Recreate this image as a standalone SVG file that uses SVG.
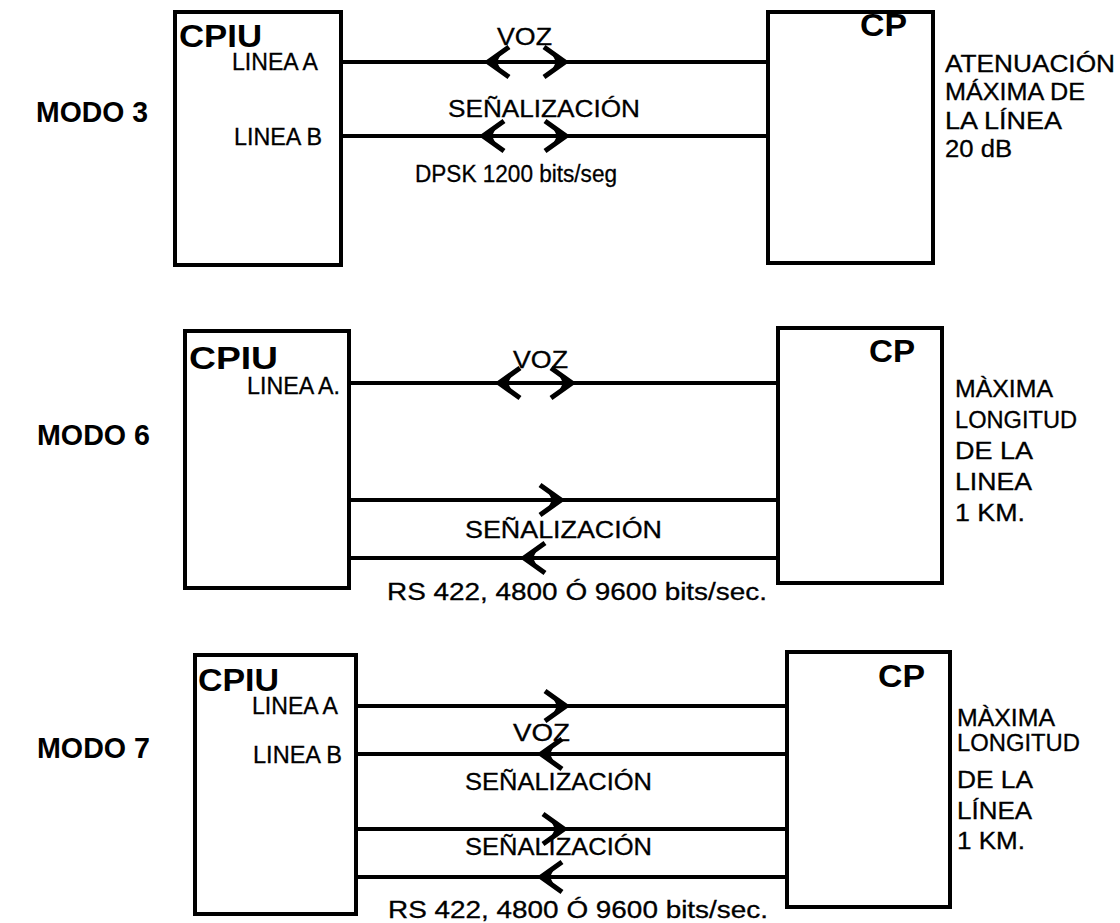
<svg xmlns="http://www.w3.org/2000/svg" xmlns:xlink="http://www.w3.org/1999/xlink" width="1120" height="923" viewBox="0 0 1120 923">
<style>
.box{fill:none;stroke:#000;stroke-width:4}
.ln{stroke:#000;stroke-width:4;fill:none}
.t{font-family:"Liberation Sans",Arial,sans-serif;font-size:23px;fill:#000;stroke:#000;stroke-width:0.3}
.b{font-family:"Liberation Sans",Arial,sans-serif;font-weight:bold;font-size:32px;fill:#000}
.m{font-family:"Liberation Sans",Arial,sans-serif;font-weight:bold;font-size:29px;fill:#000}
.ahc{fill:none;stroke:#000;stroke-width:5;stroke-linejoin:miter;stroke-miterlimit:10}
</style>
<defs>
<g id="ah">
<path class="ahc" d="M-22,-15 L-1,0 L-22,15"/>
<path d="M2,0 L-14,-8 L-10,0 L-14,8 Z" fill="#000"/>
</g>
</defs>
<rect x="0" y="0" width="1120" height="923" fill="#fff"/>

<!-- MODE 3 -->
<g id="modo3-label"><text class="m" x="36" y="122" textLength="112" lengthAdjust="spacingAndGlyphs">MODO 3</text></g>
<g id="modo3-cpiu">
<rect class="box" x="175" y="12" width="166" height="253"/>
<text class="b" x="179" y="47" textLength="83" lengthAdjust="spacingAndGlyphs">CPIU</text>
<text class="t" x="232" y="70" textLength="86" lengthAdjust="spacingAndGlyphs">LINEA A</text>
<text class="t" x="234" y="145" textLength="88" lengthAdjust="spacingAndGlyphs">LINEA B</text>
</g>
<g id="modo3-cp">
<rect class="box" x="768" y="12" width="165" height="251"/>
<text class="b" x="860" y="36" textLength="47" lengthAdjust="spacingAndGlyphs">CP</text>
</g>
<g id="modo3-nota">
<text class="t" x="945" y="72" textLength="170" lengthAdjust="spacingAndGlyphs">ATENUACIÓN</text>
<text class="t" x="945" y="100" textLength="140" lengthAdjust="spacingAndGlyphs">MÁXIMA DE</text>
<text class="t" x="945" y="129" textLength="117" lengthAdjust="spacingAndGlyphs">LA LÍNEA</text>
<text class="t" x="945" y="157" textLength="67" lengthAdjust="spacingAndGlyphs">20 dB</text>
</g>

<!-- MODE 6 -->
<g id="modo6-label"><text class="m" x="37" y="445" textLength="113" lengthAdjust="spacingAndGlyphs">MODO 6</text></g>
<g id="modo6-cpiu">
<rect class="box" x="185" y="331" width="164" height="257"/>
<text class="b" x="189" y="369" textLength="89" lengthAdjust="spacingAndGlyphs">CPIU</text>
<text class="t" x="247" y="394" textLength="93" lengthAdjust="spacingAndGlyphs">LINEA A.</text>
</g>
<g id="modo6-cp">
<rect class="box" x="778" y="328" width="164" height="255"/>
<text class="b" x="869" y="362" textLength="46" lengthAdjust="spacingAndGlyphs">CP</text>
</g>
<g id="modo6-nota">
<text class="t" x="955" y="397" textLength="98" lengthAdjust="spacingAndGlyphs">MÀXIMA</text>
<text class="t" x="955" y="428" textLength="122" lengthAdjust="spacingAndGlyphs">LONGITUD</text>
<text class="t" x="955" y="459" textLength="78" lengthAdjust="spacingAndGlyphs">DE LA</text>
<text class="t" x="955" y="490" textLength="77" lengthAdjust="spacingAndGlyphs">LINEA</text>
<text class="t" x="955" y="521" textLength="70" lengthAdjust="spacingAndGlyphs">1 KM.</text>
</g>

<!-- MODE 7 -->
<g id="modo7-label"><text class="m" x="37" y="758" textLength="113" lengthAdjust="spacingAndGlyphs">MODO 7</text></g>
<g id="modo7-cpiu">
<rect class="box" x="195" y="655" width="161" height="259"/>
<text class="b" x="198" y="691" textLength="81" lengthAdjust="spacingAndGlyphs">CPIU</text>
<text class="t" x="252" y="714" textLength="86" lengthAdjust="spacingAndGlyphs">LINEA A</text>
<text class="t" x="253" y="763" textLength="89" lengthAdjust="spacingAndGlyphs">LINEA B</text>
</g>
<g id="modo7-cp">
<rect class="box" x="787" y="652" width="163" height="255"/>
<text class="b" x="878" y="687" textLength="47" lengthAdjust="spacingAndGlyphs">CP</text>
</g>
<g id="modo7-nota">
<text class="t" x="957" y="726" textLength="98" lengthAdjust="spacingAndGlyphs">MÀXIMA</text>
<text class="t" x="957" y="751" textLength="123" lengthAdjust="spacingAndGlyphs">LONGITUD</text>
<text class="t" x="957" y="788" textLength="76" lengthAdjust="spacingAndGlyphs">DE LA</text>
<text class="t" x="957" y="819" textLength="75" lengthAdjust="spacingAndGlyphs">LÍNEA</text>
<text class="t" x="957" y="849" textLength="68" lengthAdjust="spacingAndGlyphs">1 KM.</text>
</g>

<!-- CONNECTORS -->
<g id="connectors">
<!-- mode 3 -->
<line class="ln" x1="341" y1="62" x2="768" y2="62"/>
<use xlink:href="#ah" transform="translate(487,62) scale(-1,1)"/>
<use xlink:href="#ah" transform="translate(566,62)"/>
<line class="ln" x1="341" y1="136" x2="768" y2="136"/>
<use xlink:href="#ah" transform="translate(482,136) scale(-1,1)"/>
<use xlink:href="#ah" transform="translate(567,136)"/>
<!-- mode 6 -->
<line class="ln" x1="349" y1="383" x2="778" y2="383"/>
<use xlink:href="#ah" transform="translate(498,383) scale(-1,1)"/>
<use xlink:href="#ah" transform="translate(573,383)"/>
<line class="ln" x1="349" y1="500" x2="778" y2="500"/>
<use xlink:href="#ah" transform="translate(562,500)"/>
<line class="ln" x1="349" y1="558" x2="778" y2="558"/>
<use xlink:href="#ah" transform="translate(523,558) scale(-1,1)"/>
<!-- mode 7 -->
<line class="ln" x1="356" y1="706" x2="787" y2="706"/>
<use xlink:href="#ah" transform="translate(567,706)"/>
<line class="ln" x1="356" y1="754" x2="787" y2="754"/>
<use xlink:href="#ah" transform="translate(540,754) scale(-1,1)"/>
<line class="ln" x1="356" y1="829" x2="787" y2="829"/>
<use xlink:href="#ah" transform="translate(565,829)"/>
<line class="ln" x1="356" y1="877" x2="787" y2="877"/>
<use xlink:href="#ah" transform="translate(540,877) scale(-1,1)"/>
</g>

<!-- CONNECTOR LABELS -->
<g id="labels">
<text class="t" x="497" y="45" textLength="55" lengthAdjust="spacingAndGlyphs">VOZ</text>
<text class="t" x="448" y="117" textLength="192" lengthAdjust="spacingAndGlyphs">SEÑALIZACIÓN</text>
<text class="t" x="415" y="182" textLength="202" lengthAdjust="spacingAndGlyphs">DPSK 1200 bits/seg</text>

<text class="t" x="513" y="368" textLength="55" lengthAdjust="spacingAndGlyphs">VOZ</text>
<text class="t" x="465" y="538" textLength="197" lengthAdjust="spacingAndGlyphs">SEÑALIZACIÓN</text>
<text class="t" x="387" y="600" textLength="380" lengthAdjust="spacingAndGlyphs">RS 422, 4800 Ó 9600 bits/sec.</text>

<text class="t" x="513" y="741" textLength="57" lengthAdjust="spacingAndGlyphs">VOZ</text>
<text class="t" x="465" y="790" textLength="187" lengthAdjust="spacingAndGlyphs">SEÑALIZACIÓN</text>
<text class="t" x="465" y="855" textLength="187" lengthAdjust="spacingAndGlyphs">SEÑALIZACIÓN</text>
<text class="t" x="388" y="918" textLength="380" lengthAdjust="spacingAndGlyphs">RS 422, 4800 Ó 9600 bits/sec.</text>
</g>
</svg>
